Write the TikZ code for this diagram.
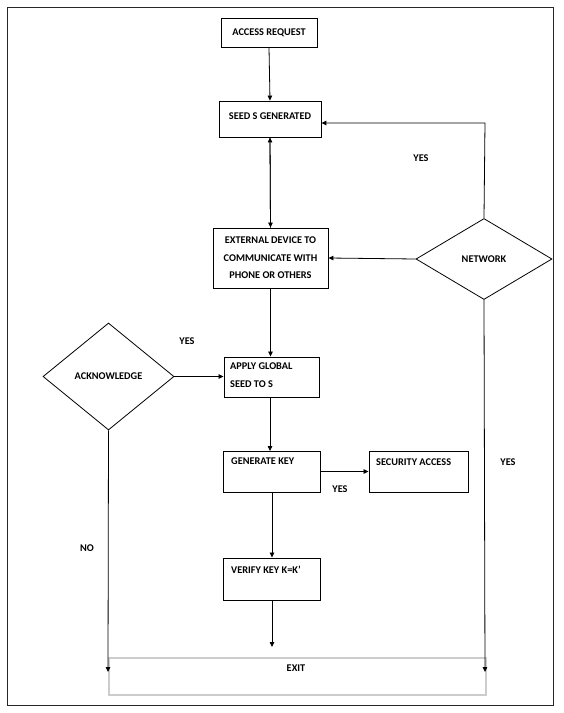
\documentclass[tikz,border=0pt]{standalone}
\usepackage{fontspec}
\setmainfont{Carlito}
\usetikzlibrary{shapes.geometric,arrows.meta}
\begin{document}
\begin{tikzpicture}[x=1pt,y=-1pt,
  every node/.style={font=\fontsize{10.3}{17.5}\selectfont\bfseries},
  box/.style={draw,line width=0.9pt,minimum width=#1,inner sep=0pt},
  arr/.style={-{Triangle[length=5pt,width=4.5pt]},line width=0.8pt},
  lbl/.style={inner sep=0pt}]
\useasboundingbox (0,0) rectangle (564,713);
\draw[line width=1pt,black!85] (7,7) rectangle (553,705);
% boxes
\node[box=96pt,minimum height=29pt] (acc) at (269,32.5) {ACCESS REQUEST};
\node[box=102pt,minimum height=36pt] (seed) at (270,119) {};
\node[lbl] (seedt) at (270,116) {SEED S GENERATED};
\node[box=115pt,minimum height=60pt,align=center] (ext) at (270.5,258) {EXTERNAL DEVICE TO\\COMMUNICATE WITH\\PHONE OR OTHERS};
\node[box=95pt,minimum height=40pt] (app) at (271.5,377) {};
\node[lbl,anchor=north west,align=left,font=\fontsize{10.3}{18}\selectfont\bfseries] (appt) at (230,363) {APPLY GLOBAL\\SEED TO S};
\node[box=97pt,minimum height=41pt] (gen) at (271.5,471.5) {};
\node[lbl,anchor=north west] (gent) at (231,458) {GENERATE KEY};
\node[box=99pt,minimum height=41pt] (sec) at (418.5,471.5) {};
\node[lbl,anchor=north west] (sect) at (376,459) {SECURITY ACCESS};
\node[box=97pt,minimum height=42pt] (ver) at (271.5,579) {};
\node[lbl,anchor=north west] (vert) at (231,566) {VERIFY KEY K=K'};
\node[draw=black!20,line width=1.2pt,minimum width=377pt,minimum height=37pt,inner sep=0pt] (exit) at (297.5,676.5) {};
\node[lbl] (exitt) at (296,668) {EXIT};
% diamonds
\node[draw,line width=0.8pt,diamond,minimum width=136pt,minimum height=81pt,inner sep=0pt] (net) at (484,259) {NETWORK};
\node[draw,line width=0.8pt,diamond,minimum width=131pt,minimum height=107pt,inner sep=0pt] (ack) at (108.5,376.5) {ACKNOWLEDGE};
% coordinates
\coordinate (nc) at (485,123);
\coordinate (lend) at (108,672);
\coordinate (rend) at (485,672);
\coordinate (vend) at (272,647);
% connectors
\draw[arr] (acc.south) -- (seed.north);
\draw[arr] (seed.south) -- (ext.north);
\draw[arr] (ext.north) -- (seed.south);
\draw[arr] (net.north) -- (nc) -- (seed.east |- nc);
\draw[arr] (net.west) -- (ext.east);
\draw[arr] (ext.south) -- (ext.south |- app.north);
\draw[arr] (ack.east) -- (ack.east -| app.west);
\draw[arr] (app.south -| 270,0) -- (270,451);
\draw[arr] (gen.east) -- (sec.west);
\draw[arr] (272,492) -- (ver.north -| 272,0);
\draw[arr] (272,600) -- (vend);
\draw[arr] (ack.south) -- (lend);
\draw[arr] (net.south) -- (rend);
% labels
\node[lbl] (y1) at (421,158) {YES};
\node[lbl] (y2) at (187,341) {YES};
\node[lbl] (y3) at (340,489) {YES};
\node[lbl] (y4) at (508,462) {YES};
\node[lbl] (no) at (87,548) {NO};
\end{tikzpicture}
\end{document}
